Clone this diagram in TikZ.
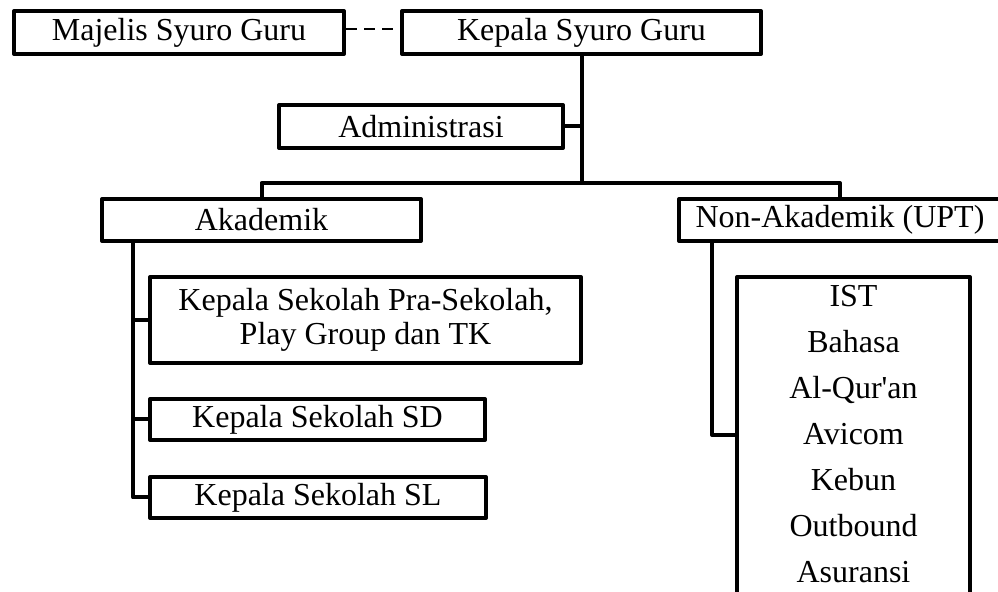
\documentclass[tikz,border=0pt]{standalone}
\usepackage{fontspec}
\setmainfont{Liberation Serif}
\usepackage{tikz}
\usetikzlibrary{positioning}
\tikzset{d/.style={line width=2pt, line join=round}}

\begin{document}
\begin{tikzpicture}[x=0.5pt, y=-0.5pt,
box/.style={rectangle, draw=black, line width=2pt, line join=round, minimum height=21.5pt, inner sep=0pt, align=center, font=\fontsize{16}{17}\selectfont},
]
\clip (0,0) rectangle (998,592);
\node[box, minimum width=165pt] (maj) at (179,32.5) {Majelis Syuro Guru};
\node[box, minimum width=179.5pt] (kep) at (581.5,32.5) {Kepala Syuro Guru};
\node[box, minimum width=142pt] (adm) at (421,126.5) {Administrasi};
\node[box, minimum width=159.5pt, minimum height=21pt] (akad) at (261.5,220) {Akademik};
\node[box, minimum width=161pt, minimum height=21pt] (nonak) at (840,220) {Non-Akademik (UPT)};
\node[box, minimum width=215.5pt, minimum height=43pt] (pra) at (365.5,320) {Kepala Sekolah Pra-Sekolah,\\Play Group dan TK};
\node[box, minimum width=167.5pt, minimum height=20.5pt] (sd) at (317.5,419.5) {Kepala Sekolah SD};
\node[box, minimum width=168pt, minimum height=20.5pt] (sl) at (318,497.5) {Kepala Sekolah SL};
\node[box, minimum width=116.5pt, minimum height=173pt] (upt) at (853.5,450) {};
\node[align=center, inner sep=0pt, font=\fontsize{16}{23}\selectfont] (uptlist) at (853.5,434.5) {IST\\Bahasa\\Al-Qur\textquotesingle an\\Avicom\\Kebun\\Outbound\\Asuransi};
\coordinate (hub) at (581.5,183);
\coordinate (abus) at (133,243);
\coordinate (nbus) at (712,243);
\draw[line width=1.4pt, dash pattern=on 5.5pt off 3.5pt] ([yshift=1.75pt]maj.east) -- ([yshift=1.75pt]kep.west);
\draw[d] (kep.south) -- (hub);
\draw[d] (adm.east) -- (adm.east -| hub);
\draw[d] (akad.north) |- (hub) -| (nonak.north);
\draw[d] (abus) |- (sl.west);
\draw[d] (pra.west -| abus) -- (pra.west);
\draw[d] (sd.west -| abus) -- (sd.west);
\draw[d] (nbus) |- ([yshift=7.5pt]upt.west);
\end{tikzpicture}
\end{document}
